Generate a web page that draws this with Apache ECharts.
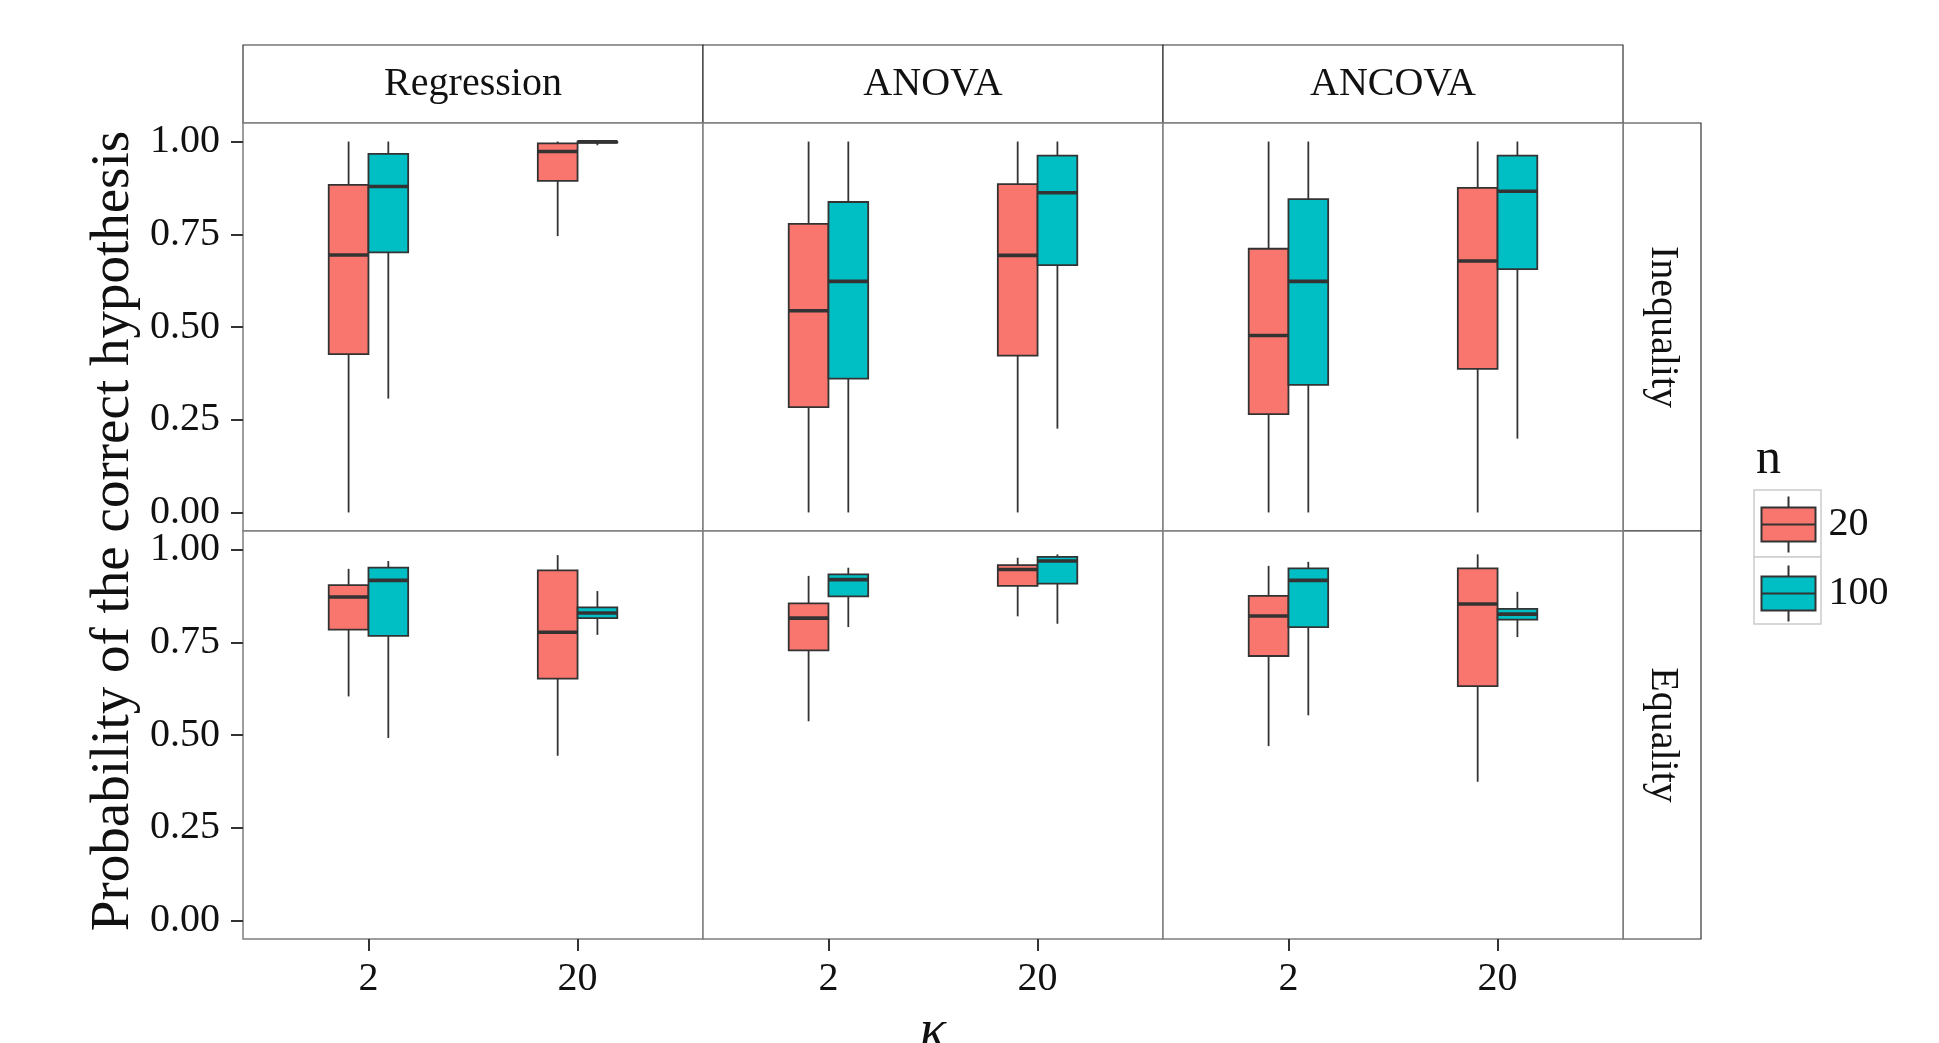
<!DOCTYPE html>
<html>
<head>
<meta charset="utf-8">
<title>Probability of the correct hypothesis</title>
<script src="https://cdn.jsdelivr.net/npm/echarts@6/dist/echarts.min.js"></script>
<style>
  html, body { margin: 0; padding: 0; background: #fff; }
  #chart { width: 1939px; height: 1043px; }
</style>
</head>
<body>
<div id="chart"></div>
<script>
const methods = ['Regression', 'ANOVA', 'ANCOVA']
const hypotheses = ['Inequality', 'Equality']
const kappaLabels = ['2', '20']
const sampleSizes = ['20', '100']
const yTicks = [0, 0.25, 0.5, 0.75, 1]

// [min, Q1, median, Q3, max] -- first for kappa = 2, then kappa = 20
const regressionIneqN20  = [[0.000, 0.427, 0.694, 0.883, 1.000], [0.745, 0.894, 0.973, 0.995, 1.000]]
const regressionIneqN100 = [[0.307, 0.701, 0.879, 0.967, 1.000], [0.990, 0.997, 0.999, 1.000, 1.000]]
const anovaIneqN20       = [[0.000, 0.284, 0.544, 0.778, 1.000], [0.000, 0.423, 0.693, 0.885, 1.000]]
const anovaIneqN100      = [[0.000, 0.361, 0.623, 0.837, 1.000], [0.226, 0.667, 0.862, 0.962, 1.000]]
const ancovaIneqN20      = [[0.000, 0.265, 0.477, 0.711, 1.000], [0.000, 0.387, 0.678, 0.875, 1.000]]
const ancovaIneqN100     = [[0.000, 0.344, 0.623, 0.845, 1.000], [0.199, 0.656, 0.866, 0.962, 1.000]]
const regressionEqN20    = [[0.604, 0.784, 0.872, 0.904, 0.948], [0.444, 0.652, 0.777, 0.944, 0.985]]
const regressionEqN100   = [[0.492, 0.767, 0.917, 0.951, 0.969], [0.770, 0.815, 0.829, 0.844, 0.888]]
const anovaEqN20         = [[0.537, 0.728, 0.815, 0.855, 0.929], [0.820, 0.902, 0.946, 0.958, 0.978]]
const anovaEqN100        = [[0.791, 0.874, 0.919, 0.933, 0.951], [0.800, 0.908, 0.969, 0.980, 0.987]]
const ancovaEqN20        = [[0.470, 0.713, 0.821, 0.875, 0.956], [0.374, 0.632, 0.853, 0.949, 0.987]]
const ancovaEqN100       = [[0.553, 0.791, 0.917, 0.949, 0.967], [0.764, 0.811, 0.826, 0.840, 0.886]]

// panels row by row (Inequality, then Equality), each [n = 20, n = 100]
const panels = [
  [regressionIneqN20, regressionIneqN100],
  [anovaIneqN20, anovaIneqN100],
  [ancovaIneqN20, ancovaIneqN100],
  [regressionEqN20, regressionEqN100],
  [anovaEqN20, anovaEqN100],
  [ancovaEqN20, ancovaEqN100]
]

const FONT = '"Liberation Serif", "DejaVu Serif", serif'
const TEXT = '#111'
const INK = '#333'
const FILL = ['#F8766D', '#00BFC4']
const PANEL_LEFT = 243
const PANEL_TOP = 123
const PANEL_W = 460
const PANEL_H = 408
const STRIP = 78
const BOX_W = 0.19
const KEY = { left: 1754, top: 490, size: 67 }

const makeBox = (j) => (params, api) => {
  const xc = api.value(0) + (j === 0 ? -BOX_W / 2 : BOX_W / 2)
  const half = api.size([BOX_W, 0])[0] / 2
  const pMin = api.coord([xc, api.value(1)])
  const pQ1 = api.coord([xc, api.value(2)])
  const pMed = api.coord([xc, api.value(3)])
  const pQ3 = api.coord([xc, api.value(4)])
  const pMax = api.coord([xc, api.value(5)])
  const line = { stroke: INK, lineWidth: 1.8 }
  return {
    type: 'group',
    children: [
      { type: 'line', shape: { x1: pMin[0], y1: pMin[1], x2: pQ1[0], y2: pQ1[1] }, style: line },
      { type: 'line', shape: { x1: pQ3[0], y1: pQ3[1], x2: pMax[0], y2: pMax[1] }, style: line },
      {
        type: 'rect',
        shape: { x: pQ3[0] - half, y: pQ3[1], width: half * 2, height: pQ1[1] - pQ3[1] },
        style: { fill: FILL[j], stroke: INK, lineWidth: 1.8 }
      },
      {
        type: 'line',
        shape: { x1: pMed[0] - half, y1: pMed[1], x2: pMed[0] + half, y2: pMed[1] },
        style: { stroke: INK, lineWidth: 3.6 }
      }
    ]
  }
}

const grids = []
const xAxes = []
const yAxes = []
const series = []

panels.forEach((panel, i) => {
  const r = Math.floor(i / 3)
  const c = i % 3
  grids.push({
    left: PANEL_LEFT + c * PANEL_W,
    top: PANEL_TOP + r * PANEL_H,
    width: PANEL_W,
    height: PANEL_H,
    show: true,
    backgroundColor: '#fff',
    borderColor: '#7f7f7f',
    borderWidth: 1.5,
    outerBoundsMode: 'none'
  })
  xAxes.push({
    type: 'value',
    gridIndex: i,
    min: 0.4,
    max: 2.6,
    axisLine: { show: false, onZero: false },
    splitLine: { show: false },
    axisTick: {
      show: r === 1,
      customValues: [1, 2],
      length: 12,
      lineStyle: { color: INK, width: 2 }
    },
    axisLabel: {
      show: r === 1,
      customValues: [1, 2],
      formatter: v => kappaLabels[Math.round(v) - 1],
      margin: 20,
      fontFamily: FONT,
      fontSize: 40,
      color: TEXT
    }
  })
  yAxes.push({
    type: 'value',
    gridIndex: i,
    min: -0.05,
    max: 1.05,
    axisLine: { show: false, onZero: false },
    splitLine: { show: false },
    axisTick: {
      show: c === 0,
      customValues: yTicks,
      length: 12,
      lineStyle: { color: INK, width: 2 }
    },
    axisLabel: {
      show: c === 0,
      customValues: yTicks,
      formatter: v => v.toFixed(2),
      margin: 23,
      fontFamily: FONT,
      fontSize: 40,
      color: TEXT
    }
  })
  panel.forEach((stats, j) => {
    series.push({
      type: 'custom',
      name: sampleSizes[j],
      xAxisIndex: i,
      yAxisIndex: i,
      itemStyle: { color: FILL[j] },
      encode: { x: 0, y: [1, 2, 3, 4, 5] },
      renderItem: makeBox(j),
      clip: false,
      data: stats.map((s, k) => [k + 1].concat(s))
    })
  })
})

// facet strips, axis titles and legend key backgrounds
const graphics = []
methods.forEach((m, c) => {
  const x = PANEL_LEFT + c * PANEL_W
  graphics.push({
    type: 'rect', z: -1,
    shape: { x: x, y: PANEL_TOP - STRIP, width: PANEL_W, height: STRIP },
    style: { fill: '#fff', stroke: INK, lineWidth: 1.2 }
  })
  graphics.push({
    type: 'text', x: x + PANEL_W / 2, y: PANEL_TOP - STRIP / 2,
    style: { text: m, font: '40px ' + FONT, fill: TEXT, textAlign: 'center', textVerticalAlign: 'middle' }
  })
})
hypotheses.forEach((h, r) => {
  const x = PANEL_LEFT + 3 * PANEL_W
  const y = PANEL_TOP + r * PANEL_H
  graphics.push({
    type: 'rect', z: -1,
    shape: { x: x, y: y, width: STRIP, height: PANEL_H },
    style: { fill: '#fff', stroke: INK, lineWidth: 1.2 }
  })
  graphics.push({
    type: 'text', x: x + STRIP / 2, y: y + PANEL_H / 2, rotation: -Math.PI / 2,
    style: { text: h, font: '40px ' + FONT, fill: TEXT, textAlign: 'center', textVerticalAlign: 'middle' }
  })
})
graphics.push({
  type: 'text', x: 114, y: PANEL_TOP + PANEL_H, rotation: Math.PI / 2,
  style: { text: 'Probability of the correct hypothesis', font: '55px ' + FONT, fill: TEXT, textAlign: 'center', textVerticalAlign: 'middle' }
})
graphics.push({
  type: 'text', x: PANEL_LEFT + 1.5 * PANEL_W, y: 1033,
  style: { text: 'κ', font: 'italic 55px ' + FONT, fill: TEXT, textAlign: 'center', textVerticalAlign: 'middle' }
})
graphics.push({
  type: 'text', x: KEY.left + 2, y: KEY.top - 30,
  style: { text: 'n', font: '50px ' + FONT, fill: TEXT, textAlign: 'left', textVerticalAlign: 'middle' }
})
sampleSizes.forEach((s, j) => {
  graphics.push({
    type: 'rect', z: -1,
    shape: { x: KEY.left, y: KEY.top + j * KEY.size, width: KEY.size, height: KEY.size },
    style: { fill: '#fff', stroke: '#cccccc', lineWidth: 1.5 }
  })
})

const chart = echarts.init(document.getElementById('chart'), null, { renderer: 'canvas' })
chart.setOption({
  backgroundColor: '#fff',
  animation: false,
  grid: grids,
  xAxis: xAxes,
  yAxis: yAxes,
  series: series,
  legend: {
    data: sampleSizes,
    orient: 'vertical',
    padding: 0,
    left: KEY.left + KEY.size / 2 - 27,
    top: KEY.top + (KEY.size - 56) / 2,
    itemWidth: 54,
    itemHeight: 56,
    itemGap: KEY.size - 56,
    icon: 'path://M27,0L27,11M0,11L54,11L54,45L0,45ZM0,28L54,28M27,45L27,56',
    itemStyle: { borderColor: INK, borderWidth: 2 },
    textStyle: { fontFamily: FONT, fontSize: 40, color: TEXT, padding: [0, 0, 0, 8] },
    selectedMode: false
  },
  graphic: graphics
})
</script>
</body>
</html>
